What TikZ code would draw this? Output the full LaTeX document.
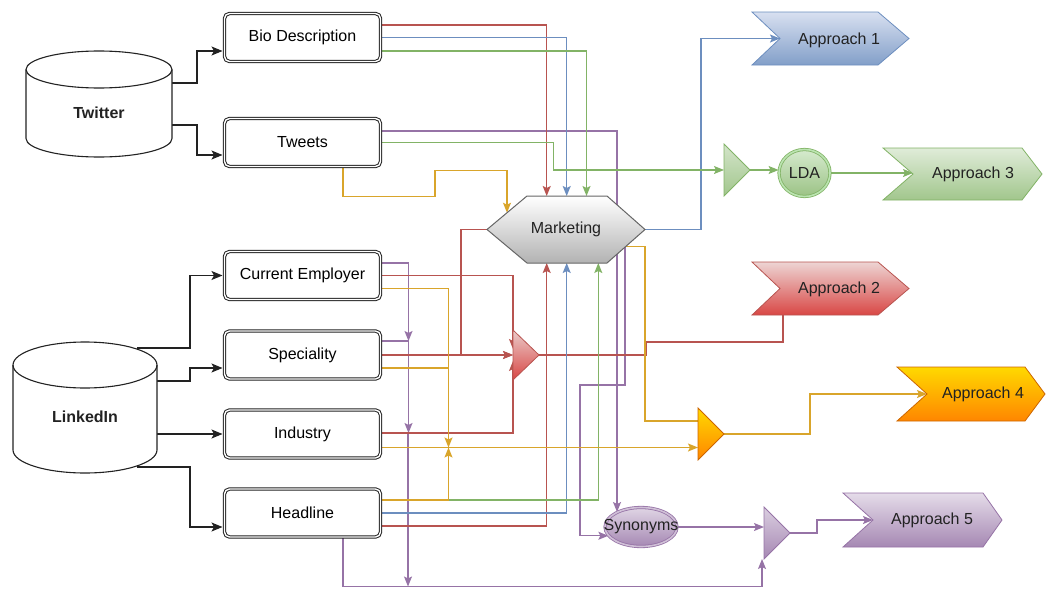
\documentclass[tikz,border=0pt]{standalone}
\usepackage{fontspec}
\setmainfont{Liberation Sans}
\usetikzlibrary{arrows.meta,calc,shapes.geometric}
\pgfdeclarelayer{edges}
\pgfsetlayers{edges,main}
\definecolor{cred}{HTML}{B85450}
\definecolor{cblue}{HTML}{6C8EBF}
\definecolor{cgreen}{HTML}{82B366}
\definecolor{cyel}{HTML}{D9A52B}
\definecolor{cpur}{HTML}{9673A6}
\definecolor{ink}{HTML}{222222}
\definecolor{cgrey}{HTML}{666666}
\tikzset{
  box/.style={draw=ink, double=white, double distance=1.4pt, line width=1pt,
    rounded corners=5pt, fill=white, minimum width=156pt, minimum height=48pt, inner sep=0pt},
  cyl/.style={draw=ink, line width=1.1pt, fill=white},
  holder/.style={inner sep=0pt, outer sep=0pt},
  blk/.style={draw=ink, line width=1.1pt, -{Stealth[length=11pt,width=9pt,inset=2.5pt]}},
  con/.style={line width=1.2pt, -{Stealth[length=10pt,width=8pt,inset=2pt]}},
  conn/.style={line width=1.2pt},
  lbl/.style={inner sep=0pt, text=ink},
}
\begin{document}
\begin{tikzpicture}[x=1pt, y=-1pt, font=\fontsize{16}{19}\selectfont]
\useasboundingbox (0,0) rectangle (1046,589);

% ---------- cylinders ----------
\node[holder, minimum width=146pt, minimum height=106pt] (tw) at (99,104) {};
\draw[cyl] (26,69.5) -- (26,138.5) arc[start angle=180, end angle=360, x radius=73pt, y radius=18.5pt]
  -- (172,69.5) arc[start angle=0, end angle=180, x radius=73pt, y radius=18.5pt] -- cycle;
\draw[cyl, fill=none] (26,69.5) arc[start angle=180, end angle=360, x radius=73pt, y radius=18.5pt];
\node[lbl, font=\fontsize{16}{19}\selectfont\bfseries] (twt) at (99,113) {Twitter};

\node[holder, minimum width=144pt, minimum height=131pt] (li) at (85,407.5) {};
\draw[cyl] (13,365) -- (13,450) arc[start angle=180, end angle=360, x radius=72pt, y radius=23pt]
  -- (157,365) arc[start angle=0, end angle=180, x radius=72pt, y radius=23pt] -- cycle;
\draw[cyl, fill=none] (13,365) arc[start angle=180, end angle=360, x radius=72pt, y radius=23pt];
\node[lbl, font=\fontsize{16}{19}\selectfont\bfseries] (lit) at (85,417) {LinkedIn};

% ---------- attribute boxes ----------
\node[box] (bio) at (302.5,37.5) {Bio Description};
\node[box] (tweets) at (302.5,142.5) {Tweets};
\node[box] (emp) at (302.5,275.5) {Current Employer};
\node[box] (spec) at (302.5,355) {Speciality};
\node[box] (ind) at (302.5,434) {Industry};
\node[box] (head) at (302.5,513) {Headline};

% ---------- marketing hexagon ----------
\node[holder, minimum width=158pt, minimum height=67pt] (mk) at (566,229.5) {};
\draw[draw=cgrey, line width=1pt, top color=white, bottom color=black!30]
  (mk.west) -- ($(mk.north west)+(40,0)$) -- ($(mk.north east)+(-38,0)$) -- (mk.east)
  -- ($(mk.south east)+(-38,0)$) -- ($(mk.south west)+(40,0)$) -- cycle;
\node[lbl] (mkt) at (mk) {Marketing};

% ---------- triangles ----------
\node[holder, minimum width=26pt, minimum height=50pt] (rt) at (526,355) {};
\node[holder, minimum width=26pt, minimum height=52pt] (gt) at (737,170) {};
\node[holder, minimum width=26pt, minimum height=52pt] (yt) at (711,434) {};
\node[holder, minimum width=26pt, minimum height=52pt] (pt) at (777,533) {};

% ---------- ellipses ----------
\node[ellipse, draw=cgreen, line width=0.8pt, double=green!20!cgreen!45, double distance=1.6pt,
  top color=green!10!cgreen!30, bottom color=cgreen!80, minimum width=51pt, minimum height=47pt,
  inner sep=0pt] (lda) at (804.5,173) {};
\node[lbl] (ldat) at (lda) {LDA};
\node[ellipse, draw=cpur, line width=0.8pt, double=cpur!45, double distance=1.6pt,
  top color=cpur!30, bottom color=cpur!85, minimum width=72pt, minimum height=39pt,
  inner sep=0pt] (syn) at (641,527) {};
\node[lbl] (synt) at (syn) {Synonyms};

% ---------- approach holders ----------
\node[holder, minimum width=157pt, minimum height=53pt] (a1) at (830.5,38.5) {};
\node[holder, minimum width=157pt, minimum height=53pt] (a2) at (830.5,288.5) {};
\node[holder, minimum width=159pt, minimum height=52pt] (a3) at (962.5,174) {};
\node[holder, minimum width=148pt, minimum height=54pt] (a4) at (971,394) {};
\node[holder, minimum width=159pt, minimum height=54pt] (a5) at (922.5,520) {};
\coordinate (a1n) at ($(a1.west)+(28,0)$);
\coordinate (a2n) at ($(a2.west)+(28,0)$);
\coordinate (a3n) at ($(a3.west)+(30,0)$);
\coordinate (a4n) at ($(a4.west)+(30,0)$);
\coordinate (a5n) at ($(a5.west)+(30,0)$);

\draw[draw=cblue, line width=0.8pt, top color=blue!8!cblue!25, bottom color=cblue!85]
  (a1.north west) -- ($(a1.north east)+(-31,0)$) -- (a1.east) -- ($(a1.south east)+(-31,0)$)
  -- (a1.south west) -- (a1n) -- cycle;
\draw[draw=cred, line width=0.8pt, top color=cred!25, bottom color=red!40!cred!90]
  (a2.north west) -- ($(a2.north east)+(-31,0)$) -- (a2.east) -- ($(a2.south east)+(-31,0)$)
  -- (a2.south west) -- (a2n) -- cycle;
\draw[draw=cgreen, line width=0.8pt, top color=cgreen!25, bottom color=cgreen!75]
  (a3.north west) -- ($(a3.north east)+(-20,0)$) -- (a3.east) -- ($(a3.south east)+(-20,0)$)
  -- (a3.south west) -- (a3n) -- cycle;
\draw[draw=orange!80!black, line width=0.8pt, top color=yellow!70!orange, bottom color=orange!95!yellow]
  (a4.north west) -- ($(a4.north east)+(-20,0)$) -- (a4.east) -- ($(a4.south east)+(-20,0)$)
  -- (a4.south west) -- (a4n) -- cycle;
\draw[draw=cpur, line width=0.8pt, top color=cpur!25, bottom color=cpur!85]
  (a5.north west) -- ($(a5.north east)+(-19,0)$) -- (a5.east) -- ($(a5.south east)+(-19,0)$)
  -- (a5.south west) -- (a5n) -- cycle;
\node[lbl] (a1t) at (839,40) {Approach 1};
\node[lbl] (a2t) at (839,289) {Approach 2};
\node[lbl] (a3t) at (973,174) {Approach 3};
\node[lbl] (a4t) at (983,394) {Approach 4};
\node[lbl] (a5t) at (932,520) {Approach 5};

% triangles drawn
\draw[draw=cred, line width=0.8pt, top color=cred!30, bottom color=red!40!cred!90]
  (rt.north west) -- (rt.east) -- (rt.south west) -- cycle;
\draw[draw=cgreen, line width=0.8pt, top color=cgreen!35, bottom color=cgreen!75]
  (gt.north west) -- (gt.east) -- (gt.south west) -- cycle;
\draw[draw=orange!80!black, line width=0.8pt, top color=yellow!70!orange, bottom color=orange!95!yellow]
  (yt.north west) -- (yt.east) -- (yt.south west) -- cycle;
\draw[draw=cpur, line width=0.8pt, top color=cpur!35, bottom color=cpur!85]
  (pt.north west) -- (pt.east) -- (pt.south west) -- cycle;

% ---------- connectors ----------
\begin{pgfonlayer}{edges}
% black
\draw[blk] ($(tw.east)+(0,-21)$) -- ++(25,0) |- ($(bio.west)+(-1.5,13.5)$);
\draw[blk] ($(tw.east)+(0,21)$) -- ++(25,0) |- ($(tweets.west)+(-1.5,12.5)$);
\draw[blk] ($(li.center)+(52,-59.5)$) -- ++(53,0) |- ($(emp.west)+(-1.5,0)$);
\draw[blk] ($(li.east)+(0,-26.5)$) -- ++(33,0) |- ($(spec.west)+(-1.5,13)$);
\draw[blk] ($(li.east)+(0,26.5)$) -- ($(ind.west)+(-1.5,0)$);
\draw[blk] ($(li.center)+(52,59.5)$) -- ++(53,0) |- ($(head.west)+(-1.5,14)$);

% purple
\draw[con, cpur] ($(emp.east)+(0,-12.5)$) -| ($(spec.east)+(27.5,-14)$);
\draw[con, cpur] ($(spec.east)+(0,-14)$) -| ($(ind.east)+(27.5,-1)$);
\draw[con, cpur] ($(ind.east)+(0,-1)$) -| ($(head.south)+(105.5,49)$);
\draw[con, cpur] ($(tweets.east)+(0,-11.5)$) -| (syn.148);
\draw[con, cpur] ($(mk.east)+(-20,17.6)$) -- ++(0,137.9) -- ++(-45,0) |- (syn.195);
\draw[con, cpur] ($(head.south)+(40.5,0)$) -- ++(0,49) -| ($(pt.south west)+(-2,0)$);
\draw[con, cpur] (syn.east) -- (syn.east -| pt.west);
\draw[con, cpur] (pt.east) -- ++(27,0) |- (a5n);

% red
\draw[con, cred] ($(bio.east)+(0,-12.5)$) -| ($(mk.north)+(-19.3,0)$);
\draw[con, cred] (emp.east) -| ($(rt.west)+(0,-6)$);
\draw[con, cred] (spec.east) -- (rt.west);
\draw[con, cred] ($(ind.east)+(0,-1)$) -| ($(rt.west)+(0,6)$);
\draw[con, cred] (mk.west) -- ++(-26,0) |- (rt.west);
\draw[con, cred] ($(head.east)+(0,13)$) -| ($(mk.south)+(-19.3,0)$);
\draw[conn, cred] (rt.east) -- ++(107,0) -- ++(0,-13) -| ($(a2.south)+(-47.5,0)$);

% blue
\draw[con, cblue] (bio.east) -| ($(mk.north)+(0.7,0)$);
\draw[con, cblue] (head.east) -| ($(mk.south)+(0.7,0)$);
\draw[con, cblue] (mk.east) -- ++(56,0) |- (a1n);

% green
\draw[con, cgreen] ($(bio.east)+(0,13.5)$) -| ($(mk.north)+(20.5,0)$);
\draw[con, cgreen] (tweets.east) -- ++(172.5,0) |- (gt.west);
\draw[con, cgreen] (gt.east) -- (gt.east -| lda.west);
\draw[con, cgreen] (lda.east) -- (lda.east -| a3n);
\draw[con, cgreen] ($(head.east)+(0,-13)$) -| ($(mk.south)+(32.3,0)$);

% yellow
\draw[con, cyel] ($(tweets.south)+(40.5,0)$) -- ++(0,29.5) -- ++(92,0) -- ++(0,-26) -| ($(mk.west)+(20,-16.75)$);
\draw[con, cyel] ($(emp.east)+(0,13)$) -| ($(ind.east)+(67.5,13.5)$);
\draw[conn, cyel] ($(spec.east)+(0,13)$) -- ++(67.5,0);
\draw[con, cyel] ($(head.east)+(0,-13)$) -| ($(ind.east)+(67.5,13.5)$);
\draw[con, cyel] ($(ind.east)+(0,13.5)$) -- ($(yt.west)+(0,13.5)$);
\draw[conn, cyel] ($(mk.east)+(-19,16.75)$) -- ++(19,0) |- ($(yt.west)+(0,-13)$);
\draw[con, cyel] (yt.east) -- ++(86,0) |- (a4n);
\end{pgfonlayer}
\end{tikzpicture}
\end{document}
